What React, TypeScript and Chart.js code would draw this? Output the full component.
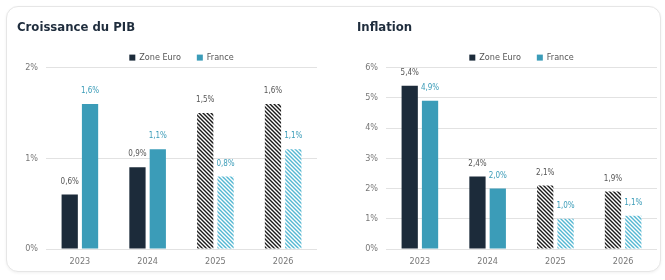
import React, { useEffect, useRef } from "react";
import { Chart, registerables } from "chart.js";

Chart.register(...registerables);

const years = ["2023", "2024", "2025", "2026"];
const gdpEuro = [0.6, 0.9, 1.5, 1.6];
const gdpFrance = [1.6, 1.1, 0.8, 1.1];
const inflEuro = [5.4, 2.4, 2.1, 1.9];
const inflFrance = [4.9, 2.0, 1.0, 1.1];
const forecastYears = ["2025", "2026"];
const seriesNames = ["Zone Euro", "France"];

const FONT = "'Liberation Sans Narrow', 'DejaVu Sans Condensed', 'Roboto Condensed', sans-serif";
const NAVY = "#1c2b3a";
const TEAL = "#3b9cb8";
const TEAL_LIGHT = "#55b7d2";

function makeHatch(color: string): CanvasPattern | string {
  const c = document.createElement("canvas");
  c.width = 4;
  c.height = 4;
  const ctx = c.getContext("2d");
  if (!ctx) return color;
  ctx.fillStyle = "#ffffff";
  ctx.fillRect(0, 0, 4, 4);
  ctx.strokeStyle = color;
  ctx.lineWidth = 1.4;
  ctx.beginPath();
  ctx.moveTo(-1, -1);
  ctx.lineTo(5, 5);
  ctx.moveTo(3, -1);
  ctx.lineTo(5, 1);
  ctx.moveTo(-1, 3);
  ctx.lineTo(1, 5);
  ctx.stroke();
  return ctx.createPattern(c, "repeat") as CanvasPattern;
}

const fmt = (v: number) => v.toFixed(1).replace(".", ",") + "%";

const labelPlugin = {
  id: "valueLabels",
  afterDatasetsDraw(chart: any) {
    const ctx = chart.ctx;
    ctx.save();
    ctx.font = `8px ${FONT}`;
    ctx.textAlign = "center";
    ctx.textBaseline = "middle";
    chart.data.datasets.forEach((ds: any, di: number) => {
      const meta = chart.getDatasetMeta(di);
      ctx.fillStyle = di === 0 ? "#555555" : TEAL;
      meta.data.forEach((bar: any, i: number) => {
        ctx.fillText(fmt(ds.data[i]), bar.x, bar.y - 13);
      });
    });
    ctx.restore();
  },
};

const legendPlugin = {
  id: "customLegend",
  afterDraw(chart: any) {
    const ctx = chart.ctx;
    const area = chart.chartArea;
    ctx.save();
    ctx.font = `9px ${FONT}`;
    ctx.textBaseline = "middle";
    const box = 6;
    const gap = 4;
    const spacing = 16;
    const widths = seriesNames.map((n) => box + gap + ctx.measureText(n).width);
    const total = widths.reduce((a, b) => a + b, 0) + spacing;
    let x = (area.left + area.right) / 2 - total / 2;
    const y = area.top - 10;
    seriesNames.forEach((n, i) => {
      ctx.fillStyle = i === 0 ? NAVY : TEAL;
      ctx.fillRect(x, y - box / 2, box, box);
      ctx.fillStyle = "#555555";
      ctx.fillText(n, x + box + gap, y);
      x += widths[i] + spacing;
    });
    ctx.restore();
  },
};

function BarChart(props: { title: string; euro: number[]; france: number[]; max: number }) {
  const ref = useRef<HTMLCanvasElement>(null);
  useEffect(() => {
    if (!ref.current) return;
    const hatchDark = makeHatch("#1a1a1a");
    const hatchTeal = makeHatch(TEAL_LIGHT);
    const isF = (i: number) => forecastYears.includes(years[i]);
    const chart = new Chart(ref.current, {
      type: "bar",
      data: {
        labels: years,
        datasets: [
          {
            label: seriesNames[0],
            data: props.euro,
            backgroundColor: years.map((_, i) => (isF(i) ? hatchDark : NAVY)) as any,
            categoryPercentage: 0.6,
            barPercentage: 0.8,
          },
          {
            label: seriesNames[1],
            data: props.france,
            backgroundColor: years.map((_, i) => (isF(i) ? hatchTeal : TEAL)) as any,
            categoryPercentage: 0.6,
            barPercentage: 0.8,
          },
        ],
      },
      options: {
        animation: false,
        responsive: false,
        layout: { padding: { right: 3, left: 0, top: 0, bottom: 0 } },
        plugins: {
          legend: { display: false },
          tooltip: { enabled: false },
          title: {
            display: true,
            text: props.title,
            align: "start",
            color: "#1f2d3d",
            font: { family: FONT, size: 13, weight: "bold" },
            padding: { top: 5, bottom: 32 },
          },
        },
        scales: {
          x: {
            grid: { display: false, drawTicks: false },
            border: { display: false },
            ticks: { color: "#777777", font: { family: FONT, size: 9 }, padding: 7 },
            afterFit: (s: any) => {
              s.height = 20;
            },
          },
          y: {
            min: 0,
            max: props.max,
            grid: { color: "#e2e2e2", drawTicks: false },
            border: { display: false },
            ticks: {
              stepSize: 1,
              color: "#777777",
              font: { family: FONT, size: 9 },
              padding: 8,
              callback: (v: any) => v + "%",
            },
            afterFit: (s: any) => {
              s.width = 29;
            },
          },
        },
      } as any,
      plugins: [labelPlugin, legendPlugin],
    });
    return () => chart.destroy();
  }, []);
  return <canvas ref={ref} width={303} height={254} />;
}

export default function App() {
  return (
    <div
      style={{
        position: "absolute",
        left: 6,
        top: 6,
        width: 655,
        height: 266,
        border: "1px solid #e6e6e6",
        borderRadius: 12,
        boxShadow: "0 1px 3px rgba(0,0,0,0.06)",
        background: "#ffffff",
        boxSizing: "border-box",
      }}
    >
      <div style={{ position: "absolute", left: 10, top: 8 }}>
        <BarChart title="Croissance du PIB" euro={gdpEuro} france={gdpFrance} max={2} />
      </div>
      <div style={{ position: "absolute", left: 350, top: 8 }}>
        <BarChart title="Inflation" euro={inflEuro} france={inflFrance} max={6} />
      </div>
    </div>
  );
}
